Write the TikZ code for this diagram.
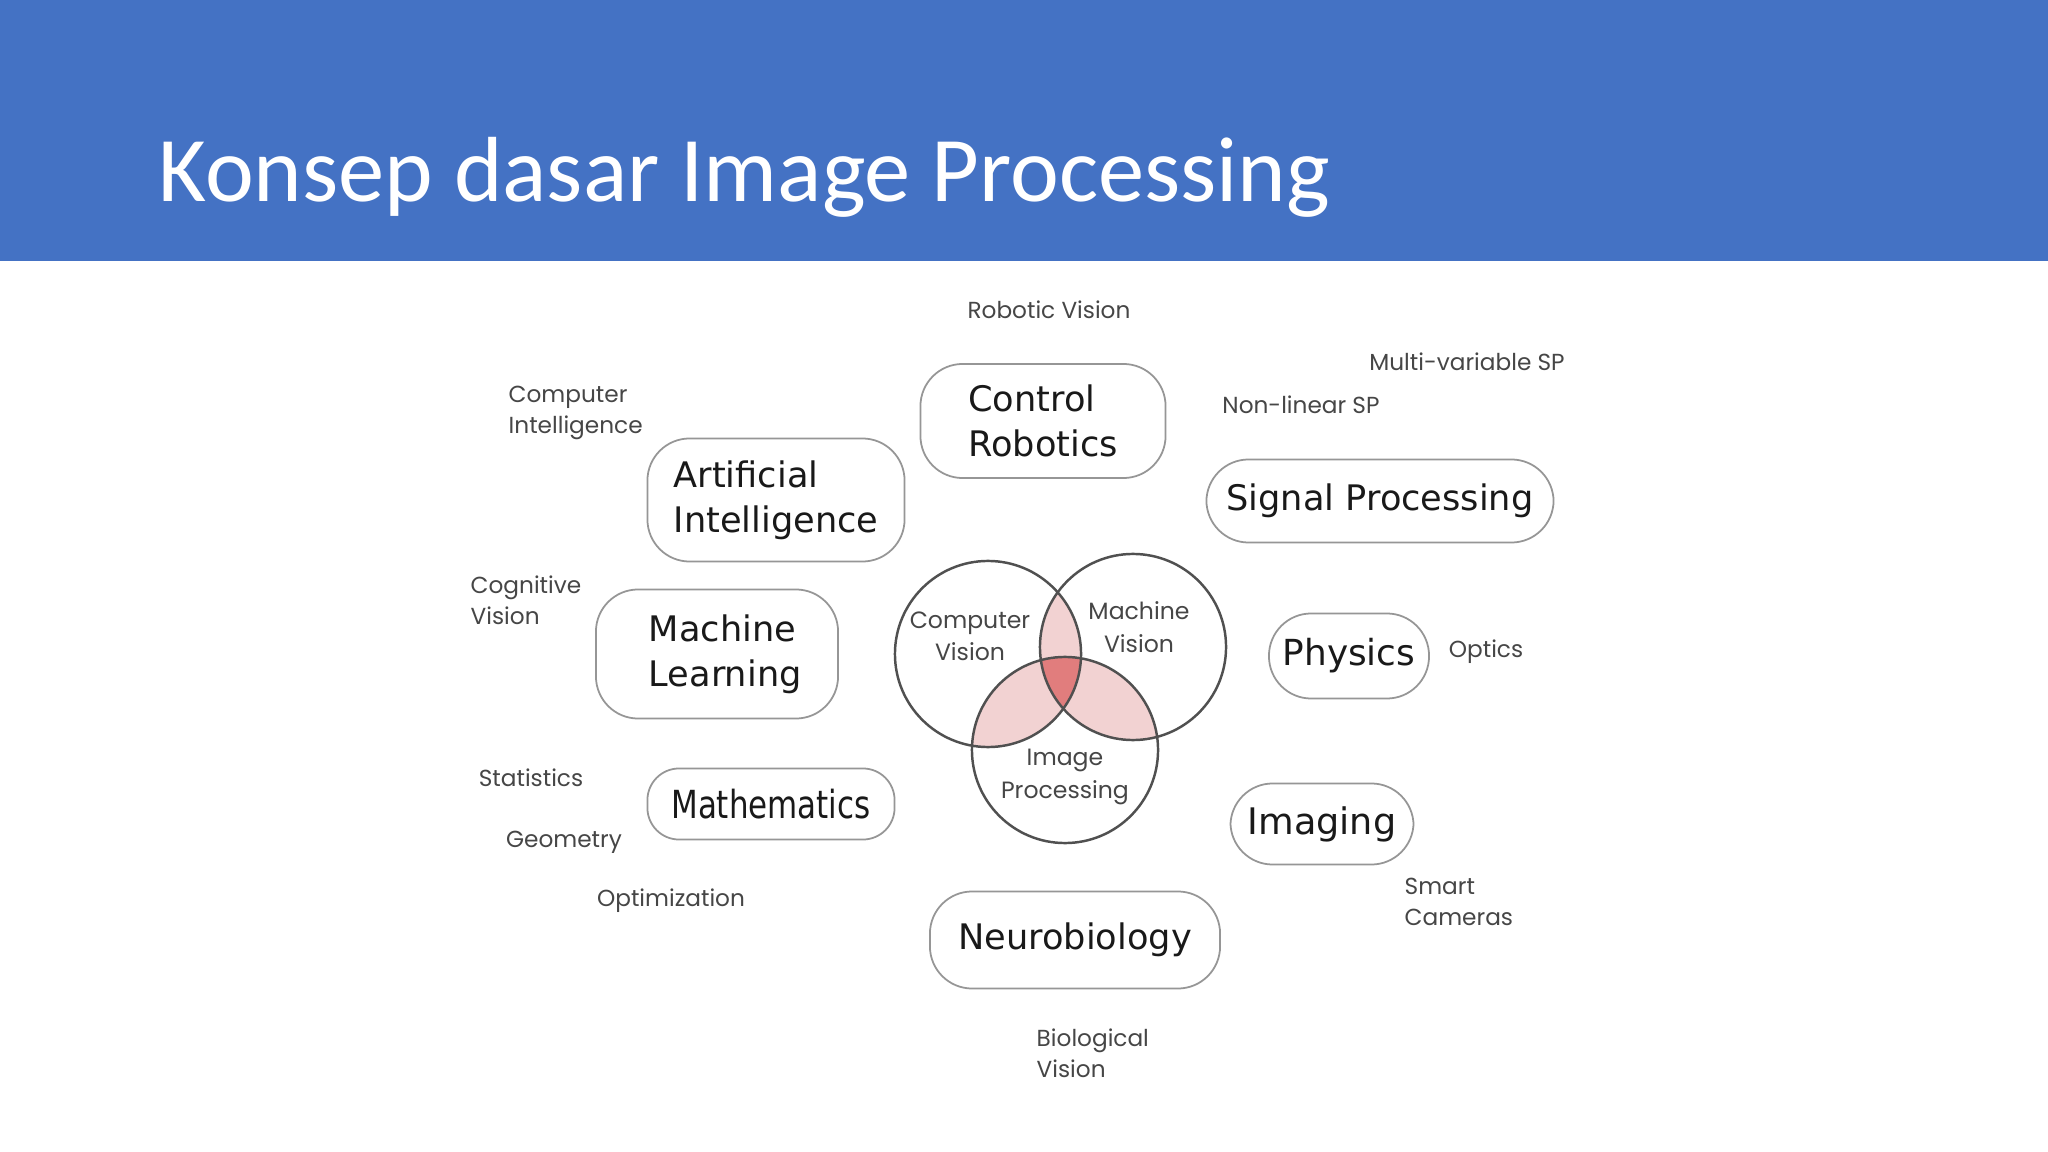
\documentclass[tikz,border=0pt]{standalone}
\usepackage{fontspec}
\setmainfont{DejaVu Sans}
\newfontfamily\titlefont{Carlito}
\newfontfamily\boxfont{DejaVu Sans}
\newfontfamily\mathsfont{DejaVu Sans}[FakeStretch=0.8]
\newfontfamily\labfont{Poppins}
\definecolor{hdrblue}{RGB}{68,114,196}
\definecolor{boxgray}{RGB}{150,150,150}
\definecolor{txt}{RGB}{25,25,25}
\definecolor{labgray}{RGB}{70,70,70}
\definecolor{circgray}{RGB}{80,80,80}
\definecolor{pinklt}{RGB}{242,210,210}
\definecolor{pinkdk}{RGB}{225,125,125}
\tikzset{
  bub/.style={draw=boxgray, line width=0.5pt, rounded corners=12pt,
    font=\boxfont\fontsize{10}{12.8}\selectfont, text=txt, align=left, inner sep=0pt},
  lab/.style={font=\labfont\fontsize{6.6}{8.9}\selectfont, text=labgray, align=left, inner sep=0pt},
  vclab/.style={font=\labfont\fontsize{6.7}{9.2}\selectfont, text=labgray, align=center, inner sep=0pt},
  vc/.style={circle, draw=circgray, line width=0.7pt, minimum size=1.86cm, inner sep=0pt},
}
\begin{document}
\begin{tikzpicture}[x=0.01cm,y=-0.01cm]
\useasboundingbox (0,0) rectangle (2048,1152);
\fill[white] (0,0) rectangle (2048,1152);
\fill[hdrblue] (0,0) rectangle (2048,261);
\node[anchor=base west, text=white, inner sep=0pt,
  font=\titlefont\fontsize{26.3}{32}\selectfont] (title) at (158,202) {Konsep dasar Image Processing};

% Venn fills
\coordinate (cvc) at (988,654);
\coordinate (mvc) at (1133,647);
\coordinate (ipc) at (1065,750);
\begin{scope}
  \clip (cvc) circle (93);
  \fill[pinklt] (mvc) circle (93);
  \fill[pinklt] (ipc) circle (93);
\end{scope}
\begin{scope}
  \clip (mvc) circle (93);
  \fill[pinklt] (ipc) circle (93);
\end{scope}
\begin{scope}
  \clip (cvc) circle (93);
  \clip (mvc) circle (93);
  \fill[pinkdk] (ipc) circle (93);
\end{scope}
\node[vc] (cv) at (cvc) {};
\node[vc] (mv) at (mvc) {};
\node[vc] (ip) at (ipc) {};
\node[vclab] (cvt) at (970,636) {Computer\\Vision};
\node[vclab] (mvt) at (1139,627) {Machine\\Vision};
\node[vclab] (ipt) at (1065,777) {Image\\Processing};

% boxes
\node[bub, minimum width=2.45cm, minimum height=1.14cm] (ctrl) at (1043,421) {Control\\Robotics};
\node[bub, minimum width=2.57cm, minimum height=1.23cm] (ai) at (776,500) {Artificial\\Intelligence};
\node[bub, minimum width=3.47cm, minimum height=0.83cm] (sp) at (1380,501) {Signal Processing};
\node[bub, minimum width=2.42cm, minimum height=1.29cm, text width=1.36cm] (ml) at (717,654) {Machine\\Learning};
\node[bub, minimum width=1.60cm, minimum height=0.85cm, font=\boxfont\fontsize{10.2}{12.8}\selectfont] (phys) at (1349,656) {Physics};
\node[bub, minimum width=2.47cm, minimum height=0.71cm, rounded corners=9pt, font=\mathsfont\fontsize{11}{13}\selectfont] (math) at (771,804) {Mathematics};
\node[bub, minimum width=1.83cm, minimum height=0.81cm, font=\boxfont\fontsize{10.4}{12.8}\selectfont] (img) at (1322,824) {Imaging};
\node[bub, minimum width=2.90cm, minimum height=0.97cm] (neuro) at (1075,940) {Neurobiology};

% labels
\node[lab] (rv) at (1049,310) {Robotic Vision};
\node[lab] (mvsp) at (1467,362) {Multi-variable SP};
\node[lab] (nlsp) at (1301,405) {Non-linear SP};
\node[lab, anchor=west] (ci) at (508,413) {Computer\\Intelligence};
\node[lab, anchor=west] (cog) at (470,600) {Cognitive\\Vision};
\node[lab] (stat) at (531,778) {Statistics};
\node[lab] (geo) at (564,842) {Geometry};
\node[lab] (opt) at (671,901) {Optimization};
\node[lab] (optics) at (1486,652) {Optics};
\node[lab, anchor=west] (smart) at (1404,902) {Smart\\Cameras};
\node[lab, anchor=west] (bio) at (1036,1053) {Biological\\Vision};
\end{tikzpicture}
\end{document}
